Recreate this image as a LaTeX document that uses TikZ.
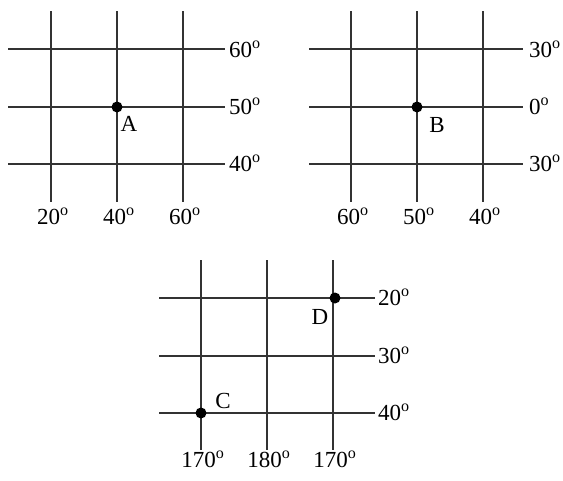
\documentclass[tikz,border=0pt]{standalone}
\usepackage{fontspec}
\setmainfont{Liberation Serif}
\begin{document}
\begin{tikzpicture}[x=1pt,y=-1pt,
  gridline/.style={line width=2pt,draw=black!80},
  pt/.style={circle,fill=black,inner sep=0pt,minimum size=11pt},
  lab/.style={font=\fontsize{23}{27}\selectfont,inner sep=0pt},
  rlab/.style={lab,anchor=base west,yshift=-7.8pt},
  blab/.style={lab,anchor=base,yshift=-7.8pt}]
\useasboundingbox (0,0) rectangle (563,480);
% --- top-left grid
\foreach \x in {51,117,183} \draw[gridline] (\x,11) -- (\x,202);
\foreach \y in {49,107,164} \draw[gridline] (8,\y) -- (225,\y);
\node[rlab] (tl1) at (229,50) {60\textsuperscript{o}};
\node[rlab] (tl2) at (229,107) {50\textsuperscript{o}};
\node[rlab] (tl3) at (229,164) {40\textsuperscript{o}};
\node[blab] (tlb1) at (53,217) {20\textsuperscript{o}};
\node[blab] (tlb2) at (119,217) {40\textsuperscript{o}};
\node[blab] (tlb3) at (185,217) {60\textsuperscript{o}};
\node[pt] (A) at (117,107) {};
\node[lab] (Alab) at (129,124) {A};
% --- top-right grid
\foreach \x in {351,417,483} \draw[gridline] (\x,11) -- (\x,202);
\foreach \y in {49,107,164} \draw[gridline] (309,\y) -- (523,\y);
\node[rlab] (tr1) at (529,50) {30\textsuperscript{o}};
\node[rlab] (tr2) at (529,107) {0\textsuperscript{o}};
\node[rlab] (tr3) at (529,164) {30\textsuperscript{o}};
\node[blab] (trb1) at (353,217) {60\textsuperscript{o}};
\node[blab] (trb2) at (419,217) {50\textsuperscript{o}};
\node[blab] (trb3) at (485,217) {40\textsuperscript{o}};
\node[pt] (B) at (417,107) {};
\node[lab] (Blab) at (437,125) {B};
% --- bottom grid
\foreach \x in {201,267,333} \draw[gridline] (\x,260) -- (\x,450);
\foreach \y in {298,356,413} \draw[gridline] (159,\y) -- (375,\y);
\node[rlab] (b1) at (378,298) {20\textsuperscript{o}};
\node[rlab] (b2) at (378,356) {30\textsuperscript{o}};
\node[rlab] (b3) at (378,413) {40\textsuperscript{o}};
\node[blab] (bb1) at (203,460) {170\textsuperscript{o}};
\node[blab] (bb2) at (269,460) {180\textsuperscript{o}};
\node[blab] (bb3) at (335,460) {170\textsuperscript{o}};
\node[pt] (D) at (335,298) {};
\node[lab] (Dlab) at (320,317) {D};
\node[pt] (C) at (201,413) {};
\node[lab] (Clab) at (223,401) {C};
\end{tikzpicture}
\end{document}
